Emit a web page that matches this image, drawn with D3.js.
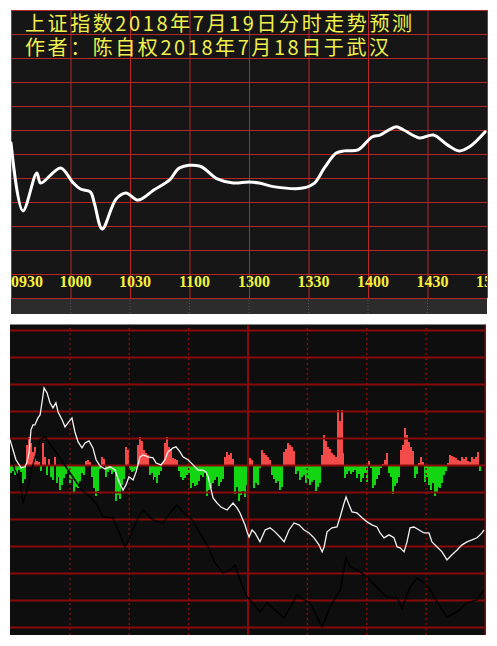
<!DOCTYPE html>
<html><head><meta charset="utf-8">
<script src="https://cdn.jsdelivr.net/npm/d3@7"></script>
<style>html,body{margin:0;padding:0;background:#fff;}svg{display:block;}</style>
</head><body>
<script>
// ---------- DATA ----------
const titleLines = ["上证指数2018年7月19日分时走势预测", "作者：陈自权2018年7月18日于武汉"];
const tickMinutes = [0, 30, 60, 90, 120, 150, 180, 210, 240];
const tickLabels = ["0930", "1000", "1030", "1100", "1300", "1330", "1400", "1430", "1500"];

// forecast intraday index (minute from 09:30, index level)
const forecastMinutes = [0,6,13,15,25,31,35,40,42,46,53,58,64,72,80,85,95,104,112,120,125,133,147,153,158,164,168,175,182,186,194,198,206,213,220,226,231,239];
const forecastValues = [2764.6,2736.3,2752.1,2747.9,2754.2,2748.3,2745.4,2744.2,2739.6,2728.8,2741.3,2743.8,2740.8,2745.0,2749.2,2754.2,2755.0,2749.6,2747.9,2748.3,2747.9,2746.3,2745.8,2747.9,2754.2,2760.4,2761.3,2761.7,2767.1,2767.9,2771.3,2770.0,2766.7,2767.9,2763.8,2761.3,2762.9,2769.2];

// lower panel: per-minute bar values (red up / green down)
const barValues = [-3.0,-2.2,-3.7,-3.3,-1.9,-2.6,-6.7,-5.2,7.4,10.4,8.1,4.8,6.7,1.5,1.1,-2.2,8.1,3.0,-3.7,2.2,-4.4,-5.6,3.0,-6.7,-4.4,-9.3,-7.4,-4.8,-3.3,-1.9,-6.7,-5.2,-10.4,-8.1,-8.5,-5.9,-3.0,-3.7,1.5,1.9,1.1,-4.4,-8.5,-11.5,-9.6,-1.5,3.0,2.2,-4.4,-2.6,-1.9,-3.3,-2.6,-13.3,-11.1,-12.6,-7.4,-5.2,6.7,5.6,
-1.9,-2.6,-2.2,-1.5,7.4,10.4,8.9,5.6,4.4,3.7,-3.7,-3.0,-5.6,-4.4,-6.7,-3.7,-2.2,1.1,8.1,10.4,6.7,5.9,2.6,2.2,1.9,-2.2,-4.4,-5.6,-4.8,-3.7,-3.0,-8.5,-6.7,-7.8,-7.4,-5.9,-3.7,-4.4,-3.0,-11.5,-9.3,-8.5,-6.7,-5.6,-4.4,-7.8,-6.3,-5.2,3.0,4.8,3.7,4.4,2.2,-10.7,-8.1,-13.3,-11.1,-9.6,-11.9,-7.4,
-5.6,2.6,1.9,-8.5,-6.7,-7.4,-1.1,5.6,4.4,3.7,3.0,1.9,-3.7,-5.2,-6.7,-5.9,-9.3,-8.1,4.8,5.9,8.1,7.4,6.7,5.2,-3.3,-2.2,-5.6,-4.4,-3.7,-6.7,-5.2,-7.4,-6.3,-5.6,-9.6,-8.1,-6.7,3.7,11.1,8.9,6.7,5.9,4.4,3.7,3.0,20.4,16.3,20.4,4.4,-4.8,-3.3,-2.2,-3.3,-2.6,-1.9,-4.8,-3.3,-6.3,-4.8,-3.0,
-6.3,1.5,-1.1,-8.5,-7.4,-5.2,-3.7,-1.1,0.4,1.9,4.4,-3.0,-4.4,-10.7,-7.8,-6.7,-4.4,5.6,7.4,13.7,11.1,8.5,6.7,5.2,-4.8,-3.3,0.7,3.0,1.1,-6.3,-4.4,-7.4,-9.3,-6.7,-11.5,-10.4,-8.1,-8.5,-6.7,-3.7,-2.2,0.7,3.7,3.3,3.0,2.6,1.9,1.5,3.0,2.2,3.0,1.5,1.1,3.0,2.2,3.0,4.8,-2.2];

// lower panel: white line
const whiteMinutes = [0,3.0,5.6,7.6,8.6,9.6,10.6,11.6,12.6,14.1,15.2,16.2,17.2,18.7,20.2,21.7,23.2,24.3,26.3,27.8,29.3,31.3,32.8,34.4,36.4,37.9,39.9,41.9,43.5,45.5,48.0,50.5,53.1,55.1,57.1,58.6,60.1,62.2,63.7,65.7,67.2,69.7,72.3,73.8,76.3,78.3,79.8,82.4,83.9,85.9,87.4,89.9,92.5,95.0,97.5,99.0,100.1,102.6,104.6,106.6,109.7,112.7,114.7,116.2,118.7,119.8,120.8,122.3,123.8,126.3,128.9,131.4,133.9,136.4,138.5,141.0,143.5,146.0,148.6,151.1,153.6,156.1,157.7,158.7,160.2,162.7,165.2,166.8,168.8,169.8,171.3,172.8,175.3,177.9,180.4,182.9,185.4,187.0,189.0,191.5,194.0,195.6,197.1,199.1,200.6,202.1,204.1,206.7,209.2,211.7,213.2,215.8,218.3,220.8,223.3,225.9,228.4,230.9,233.4,236.0,238.5,239.5];
const whiteValues = [9.3,1.9,-1.1,-0.7,1.1,4.4,13.0,14.8,14.8,17.4,18.5,23.3,28.5,26.7,23.0,21.1,23.0,19.6,16.7,14.1,15.6,17.4,12.2,8.5,6.3,8.1,8.9,6.3,1.9,-0.4,-1.5,-0.7,-1.9,-6.3,-9.3,-7.4,-4.4,-5.6,-2.6,3.0,3.7,3.0,2.6,0.7,0,1.9,4.8,6.3,6.7,4.8,3.0,1.9,0,-1.9,-1.9,-2.6,-4.4,-12.2,-14.1,-15.6,-16.7,-14.1,-15.9,-17.8,-22.2,-24.8,-26.7,-24.1,-25.2,-28.5,-24.1,-23.3,-24.8,-26.7,-28.5,-24.1,-21.5,-22.2,-24.1,-25.2,-27.0,-29.6,-32.2,-30.4,-24.8,-23.3,-23.0,-19.3,-14.1,-11.9,-14.8,-17.4,-17.8,-19.6,-21.1,-22.2,-23.0,-25.2,-27.0,-25.9,-27.0,-30.4,-30.7,-32.2,-28.5,-23.3,-23.0,-24.1,-25.2,-25.2,-28.5,-30.4,-32.2,-35.2,-33.3,-31.5,-29.6,-28.5,-27.8,-27.0,-25.2,-24.1];

// lower panel: black line
const blackMinutes = [0,2.5,5.1,6.6,8.6,11.6,15.2,17.7,21.2,25.3,29.3,32.8,36.4,40.4,44.0,47.0,52.0,54.6,58.1,60.6,64.2,67.2,72.3,77.3,80.8,84.4,87.4,92.0,96.0,100.1,103.6,107.6,111.2,113.7,116.2,119.8,121.3,126.3,129.9,138.5,145.0,148.6,151.6,157.7,161.7,166.8,169.8,171.8,175.3,178.9,181.9,186.5,190.5,195.6,198.1,202.1,205.7,209.2,212.2,215.8,220.8,225.9,230.9,236.0,239.5];
const blackValues = [3.7,-1.9,-5.6,-14.1,-9.3,0,9.3,10.4,6.7,2.6,-1.9,-5.6,-9.3,-11.9,-14.8,-19.3,-19.6,-24.1,-30.4,-26.7,-20.4,-16.7,-20.4,-21.5,-17.8,-14.8,-17.4,-20.4,-25.2,-30.4,-36.3,-40.0,-38.9,-37.0,-42.6,-48.9,-50.0,-54.4,-51.1,-56.7,-48.1,-50.0,-51.1,-60.0,-52.6,-46.3,-34.4,-37.8,-38.9,-40.7,-42.6,-46.3,-48.9,-49.3,-53.0,-45.2,-41.9,-43.7,-46.3,-50.7,-56.3,-54.4,-51.1,-50.0,-46.3];

// ---------- DRAW ----------
const W = 497, H = 646;
const svg = d3.select("body").append("svg").attr("width", W).attr("height", H);
svg.append("rect").attr("width", W).attr("height", H).attr("fill", "#ffffff");
const defs = svg.append("defs");

// ===== Top panel =====
const x1 = d3.scaleLinear().domain([0, 240]).range([11, 487]);
const y1 = d3.scaleLinear().domain([2700, 2820]).range([298, 10]);
const topG = svg.append("g");
defs.append("clipPath").attr("id", "clipTop").append("rect")
  .attr("x", x1(0)).attr("y", y1(2820)).attr("width", x1(240) - x1(0)).attr("height", y1(2700) - y1(2820));

topG.append("rect").attr("x", x1(0)).attr("y", y1(2820))
  .attr("width", x1(240) - x1(0)).attr("height", y1(2700) - y1(2820)).attr("fill", "#161616");

// strip under the top panel
topG.append("rect").attr("x", x1(0)).attr("y", y1(2700)).attr("width", x1(240) - x1(0)).attr("height", 16).attr("fill", "#2c2c2c");
topG.append("g").selectAll("line").data(tickMinutes.filter(m => m > 0 && m < 240)).join("line")
  .attr("x1", d => x1(d)).attr("x2", d => x1(d)).attr("y1", y1(2700) + 2).attr("y2", y1(2700) + 16)
  .attr("stroke", "#555").attr("stroke-width", 1).attr("stroke-dasharray", "1,2");

// horizontal grid
const gy1 = topG.append("g").attr("transform", `translate(${x1(0)},0)`)
  .call(d3.axisLeft(y1).tickValues(d3.range(2700, 2821, 10)).tickSize(-(x1(240) - x1(0))).tickFormat(""));
gy1.select(".domain").remove();
gy1.selectAll("line").attr("stroke", "#b8262a").attr("stroke-width", 1);
gy1.selectAll("text").remove();
// vertical grid
const gx1 = topG.append("g").attr("transform", `translate(0,${y1(2700)})`)
  .call(d3.axisBottom(x1).tickValues(tickMinutes).tickSize(-(y1(2700) - y1(2820))).tickFormat(""));
gx1.select(".domain").remove();
gx1.selectAll("line").attr("stroke", "#b8262a").attr("stroke-width", 1);
gx1.selectAll("text").remove();

// title (one text block, two lines)
const title = topG.append("text")
  .attr("font-family", "'Noto Sans CJK SC', sans-serif").attr("font-size", 20)
  .attr("fill", "#f2f04a");
title.selectAll("tspan").data(titleLines).join("tspan")
  .attr("x", 25).attr("y", (d, i) => 31 + i * 24)
  .attr("textLength", (d, i) => i === 0 ? 387 : 364).attr("lengthAdjust", "spacing")
  .text(d => d);

// tick labels
const labG = topG.append("g").attr("clip-path", "url(#clipTop)");
labG.selectAll("text").data(tickMinutes).join("text")
  .attr("x", (d, i) => i === 0 ? x1(d) : x1(d) + 5)
  .attr("text-anchor", (d, i) => i === 0 ? "start" : "middle")
  .attr("y", 287)
  .attr("font-family", "'Liberation Serif', serif").attr("font-weight", "bold").attr("font-size", 16)
  .attr("fill", "#f5f23a").text((d, i) => tickLabels[i]);

// forecast line
const line1 = d3.line().x((d, i) => x1(forecastMinutes[i])).y(d => y1(d)).curve(d3.curveCatmullRom.alpha(0.5));
topG.append("path").attr("clip-path", "url(#clipTop)").datum(forecastValues).attr("d", line1)
  .attr("fill", "none").attr("stroke", "#ffffff").attr("stroke-width", 3).attr("stroke-linejoin", "round").attr("stroke-linecap", "round");

// ===== Bottom panel =====
const x2 = d3.scaleLinear().domain([0, 240]).range([10, 485]);
const y2 = d3.scaleLinear().domain([-63, 52]).range([635, 324.5]);
const botG = svg.append("g");
defs.append("clipPath").attr("id", "clipBot").append("rect")
  .attr("x", x2(0)).attr("y", y2(52)).attr("width", x2(240) - x2(0) + 1).attr("height", y2(-63) - y2(52));
botG.append("rect").attr("x", x2(0)).attr("y", y2(52)).attr("width", x2(240) - x2(0) + 1)
  .attr("height", y2(-63) - y2(52)).attr("fill", "#0e0e0e");

const inner = botG.append("g").attr("clip-path", "url(#clipBot)");
const bw = (x2(1) - x2(0));
inner.append("g").attr("shape-rendering", "crispEdges").selectAll("rect").data(barValues).join("rect")
  .attr("x", (d, i) => x2(i)).attr("width", bw)
  .attr("y", d => d > 0 ? y2(d) : y2(0))
  .attr("height", d => Math.abs(y2(d) - y2(0)))
  .attr("fill", d => d > 0 ? "#f44a4a" : "#12d612");

// grid
const gy2 = inner.append("g").attr("transform", `translate(${x2(0)},0)`)
  .call(d3.axisLeft(y2).tickValues(d3.range(-60, 51, 10)).tickSize(-(x2(240) - x2(0) + 1)).tickFormat(""));
gy2.select(".domain").remove();
gy2.selectAll("line").attr("stroke", "#8a0a0a").attr("stroke-width", 2);
gy2.selectAll("text").remove();
const gx2 = inner.append("g").attr("transform", `translate(0,${y2(-63)})`)
  .call(d3.axisBottom(x2).tickValues(tickMinutes.slice(1)).tickSize(-(y2(-63) - y2(52))).tickFormat(""));
gx2.select(".domain").remove();
gx2.selectAll("line").attr("stroke", "#8a0a0a")
  .attr("stroke-width", d => (d === 120 || d === 240) ? 2 : 1.5)
  .attr("stroke-dasharray", d => (d === 120 || d === 240) ? null : "2,3");
gx2.selectAll("text").remove();

// black line
const lineB = d3.line().x((d, i) => x2(blackMinutes[i])).y(d => y2(d));
inner.append("path").datum(blackValues).attr("d", lineB)
  .attr("fill", "none").attr("stroke", "#000000").attr("stroke-width", 1.5);
// white line
const lineW = d3.line().x((d, i) => x2(whiteMinutes[i])).y(d => y2(d));
inner.append("path").datum(whiteValues).attr("d", lineW)
  .attr("fill", "none").attr("stroke", "#f2f2f2").attr("stroke-width", 1.3);
</script>
</body></html>
